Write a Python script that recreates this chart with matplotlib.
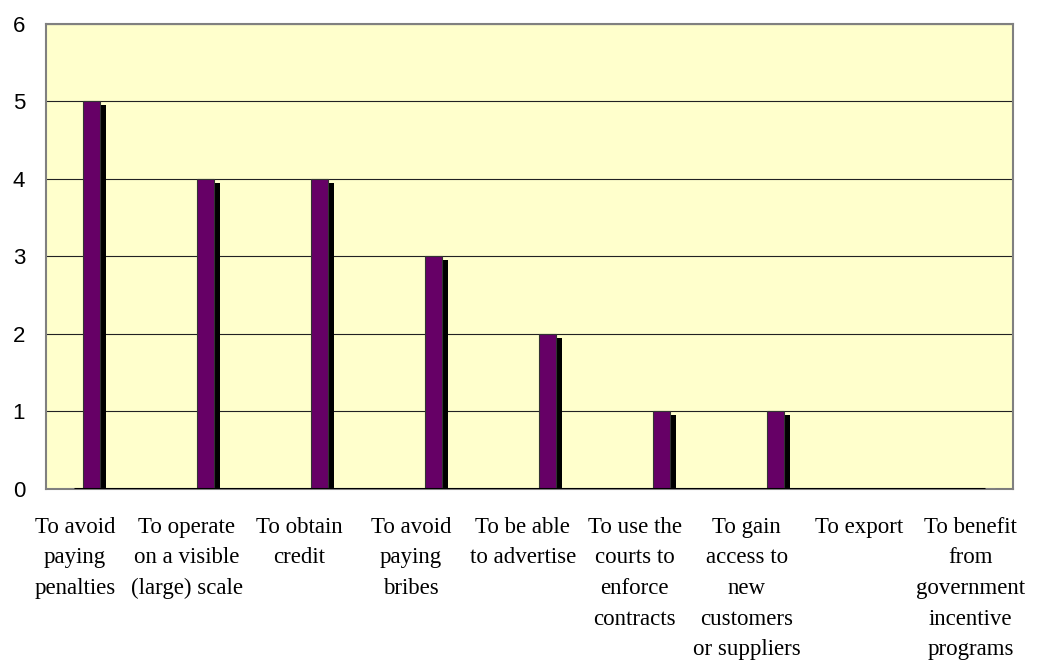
import matplotlib.pyplot as plt

categories = [
    "To avoid\npaying\npenalties",
    "To operate\non a visible\n(large) scale",
    "To obtain\ncredit",
    "To avoid\npaying\nbribes",
    "To be able\nto advertise",
    "To use the\ncourts to\nenforce\ncontracts",
    "To gain\naccess to\nnew\ncustomers\nor suppliers",
    "To export",
    "To benefit\nfrom\ngovernment\nincentive\nprograms",
]
values = [5, 4, 4, 3, 2, 1, 1, 0, 0]

fig = plt.figure(figsize=(10.44, 6.66), dpi=100)
ax = fig.add_axes([0.0441, 0.2658, 0.9262, 0.6982])
ax.set_facecolor('#FFFFCC')

x = list(range(len(values)))
w = 0.149
# shadow bars, then the purple bars on top
ax.bar([i + 0.053 for i in x], [max(v - 0.05, 0) for v in values], w,
       color='black', zorder=2)
ax.bar(x, values, w, color='#660066',
       edgecolor='#333333', linewidth=0.8, zorder=3)
ax.plot([-0.154, 7.838], [0, 0], color='black', linewidth=2.2, zorder=4,
        solid_capstyle='butt')

ax.set_xlim(-0.399, 8.083)
ax.set_ylim(0, 6)
ax.set_yticks(range(7))
ax.yaxis.grid(True, color='#222222', linewidth=0.8)
ax.set_axisbelow(True)
ax.tick_params(axis='y', length=0, pad=15, labelsize=16)
for lab in ax.get_yticklabels():
    lab.set_family('Liberation Sans')
ax.set_xticks([])
for s in ax.spines.values():
    s.set_color('#808080')
    s.set_linewidth(1.5)

for i, c in enumerate(categories):
    ax.text(-0.145 + 0.982 * i, -0.36, c, ha='center', va='top', fontsize=16.5,
            family='Liberation Serif', linespacing=1.6)

fig.savefig('out.png', dpi=100)
